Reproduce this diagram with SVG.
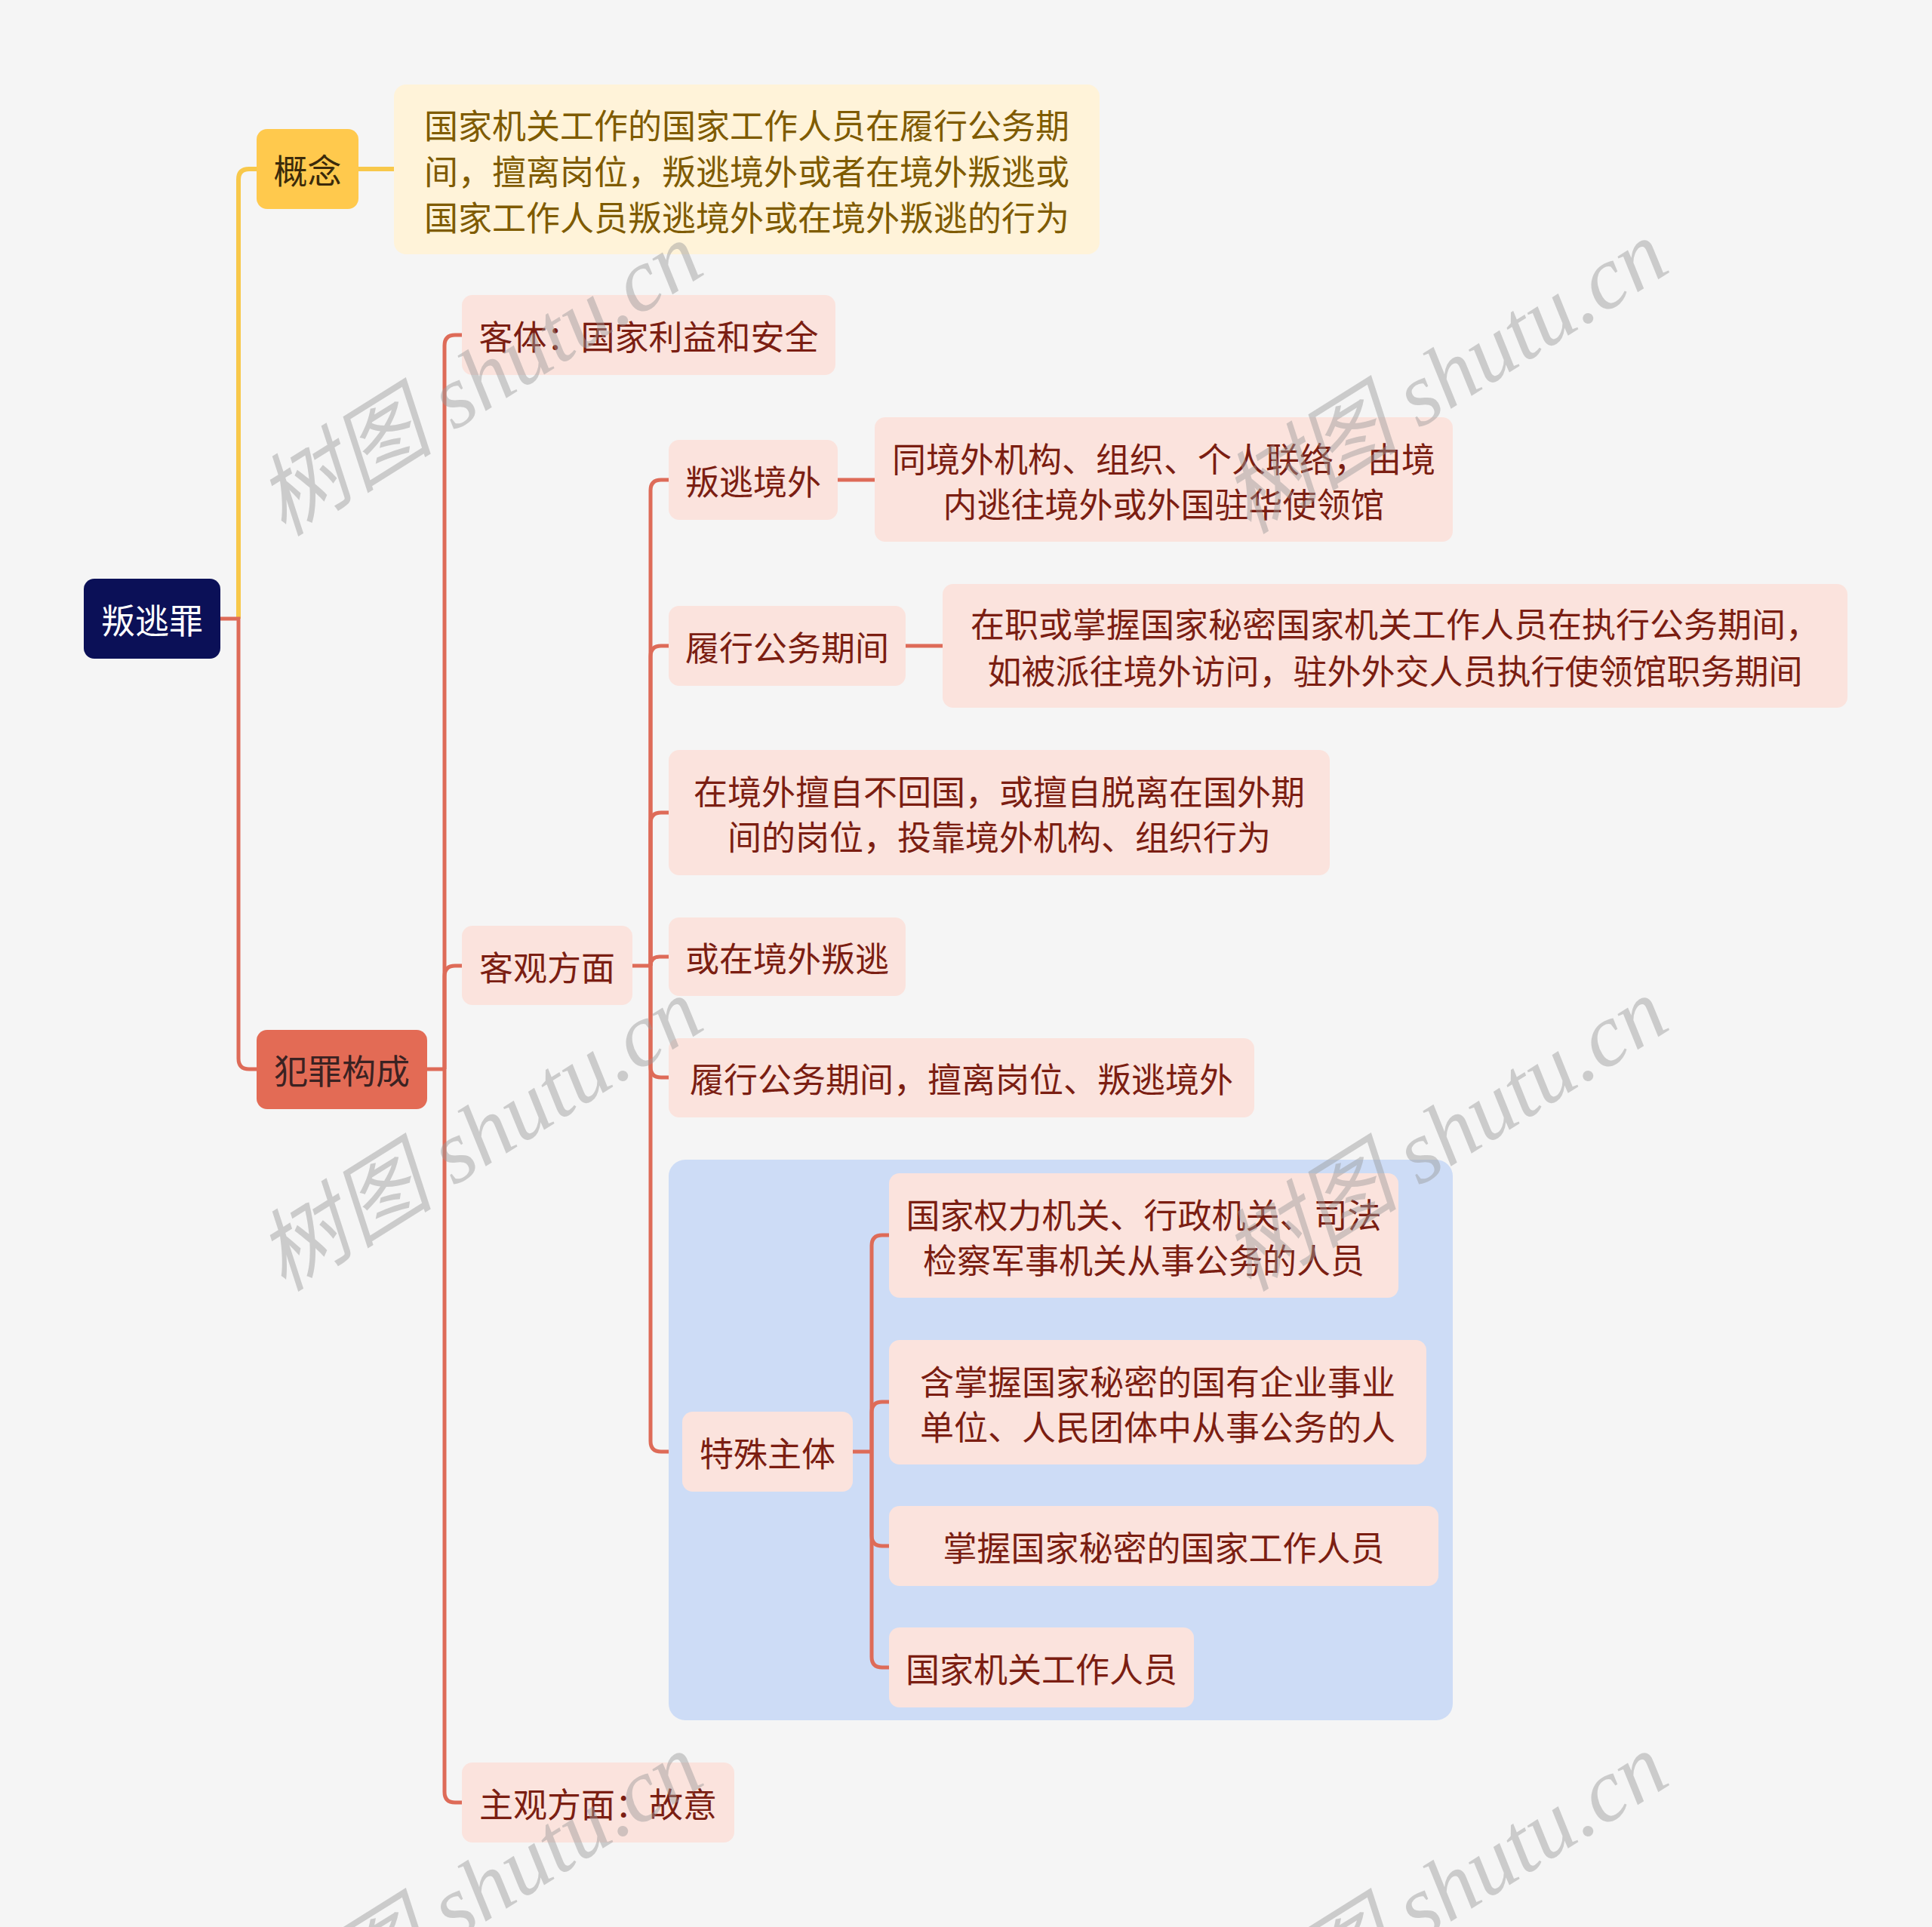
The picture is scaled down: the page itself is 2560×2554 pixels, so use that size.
<svg xmlns="http://www.w3.org/2000/svg" width="2560" height="2554" viewBox="0 0 2560 2554">
<style>
text{font-family:"Noto Sans CJK SC","Noto Sans",sans-serif;font-size:45px;text-anchor:middle;dominant-baseline:central}
.pk{fill:#FBE3DD}
.pt{fill:#7B1E12}
.ln{fill:none;stroke:#DE6B58;stroke-width:5;stroke-linecap:butt}
.yl{fill:none;stroke:#F8C84A;stroke-width:6}
.wm{font-family:"Liberation Serif","Noto Sans CJK SC",serif;font-style:italic;font-size:118px;fill:#9a9a9a;opacity:0.45;text-anchor:start;dominant-baseline:alphabetic}
</style>
<rect width="2560" height="2554" fill="#F5F5F5"/>
<g id="connectors">
<path class="yl" d="M316,820 V238 Q316,224 330,224 H340"/>
<path class="yl" d="M475,224 H522"/>
<path class="ln" d="M292,820 H316 V1403 Q316,1417 330,1417 H340"/>
<path class="ln" d="M566,1417 H589"/>
<path class="ln" d="M589,1417 V458 Q589,444 603,444 H612"/>
<path class="ln" d="M589,1417 V1294 Q589,1280 603,1280 H612"/>
<path class="ln" d="M589,1417 V2375 Q589,2389 603,2389 H612"/>
<path class="ln" d="M838,1280 H862"/>
<path class="ln" d="M862,1280 V650 Q862,636 876,636 H886"/>
<path class="ln" d="M862,1280 V870 Q862,856 876,856 H886"/>
<path class="ln" d="M862,1280 V1091 Q862,1077 876,1077 H886"/>
<path class="ln" d="M862,1280 Q862,1268 874,1268 H886"/>
<path class="ln" d="M862,1280 V1414 Q862,1428 876,1428 H886"/>
<path class="ln" d="M862,1280 V1910 Q862,1924 876,1924 H904"/>
<path class="ln" d="M1110,636 H1159"/>
<path class="ln" d="M1200,856 H1249"/>
</g>
<g id="group-bg">
<rect x="886" y="1537" width="1039" height="743" rx="22" fill="#CDDCF6"/>
</g>
<g id="connectors-group">
<path class="ln" d="M1130,1924 H1155"/>
<path class="ln" d="M1155,1924 V1651 Q1155,1637 1169,1637 H1178"/>
<path class="ln" d="M1155,1924 V1872 Q1155,1858 1169,1858 H1178"/>
<path class="ln" d="M1155,1924 V2035 Q1155,2049 1169,2049 H1178"/>
<path class="ln" d="M1155,1924 V2196 Q1155,2210 1169,2210 H1178"/>
</g>
<g id="root">
<rect x="111" y="767" width="181" height="106" rx="14" fill="#0B1057"/>
<text x="201.5" y="820" fill="#FFFFFF">叛逃罪</text>
</g>
<g id="gainian">
<rect x="340" y="171" width="135" height="106" rx="14" fill="#FFC94D"/>
<text x="407.5" y="224" fill="#3B2A0A">概念</text>
</g>
<g id="gainian-desc">
<rect x="522" y="112" width="935" height="225" rx="16" fill="#FFF3D9"/>
<text x="989.5" y="164" fill="#7F5B00">国家机关工作的国家工作人员在履行公务期</text>
<text x="989.5" y="225" fill="#7F5B00">间，擅离岗位，叛逃境外或者在境外叛逃或</text>
<text x="989.5" y="286" fill="#7F5B00">国家工作人员叛逃境外或在境外叛逃的行为</text>
</g>
<g id="fanzui">
<rect x="340" y="1365" width="226" height="105" rx="14" fill="#E36B55"/>
<text x="453" y="1417" fill="#3A2222">犯罪构成</text>
</g>
<g id="keti">
<rect class="pk" x="612" y="391" width="495" height="106" rx="14"/>
<text class="pt" x="859.5" y="444">客体：国家利益和安全</text>
</g>
<g id="keguan">
<rect class="pk" x="612" y="1227" width="226" height="105" rx="14"/>
<text class="pt" x="725" y="1280">客观方面</text>
</g>
<g id="zhuguan">
<rect class="pk" x="612" y="2336" width="361" height="106" rx="14"/>
<text class="pt" x="792.5" y="2389">主观方面：故意</text>
</g>
<g id="pantao">
<rect class="pk" x="886" y="583" width="224" height="106" rx="14"/>
<text class="pt" x="998" y="636">叛逃境外</text>
</g>
<g id="pantao-desc">
<rect class="pk" x="1159" y="553" width="766" height="165" rx="14"/>
<text class="pt" x="1542" y="606">同境外机构、组织、个人联络，由境</text>
<text class="pt" x="1542" y="666">内逃往境外或外国驻华使领馆</text>
</g>
<g id="lvxing">
<rect class="pk" x="886" y="803" width="314" height="106" rx="14"/>
<text class="pt" x="1043" y="856">履行公务期间</text>
</g>
<g id="lvxing-desc">
<rect class="pk" x="1249" y="774" width="1199" height="164" rx="14"/>
<text class="pt" x="1848.5" y="825">在职或掌握国家秘密国家机关工作人员在执行公务期间，</text>
<text class="pt" x="1848.5" y="887">如被派往境外访问，驻外外交人员执行使领馆职务期间</text>
</g>
<g id="jingwai-buhui">
<rect class="pk" x="886" y="994" width="876" height="166" rx="14"/>
<text class="pt" x="1324" y="1047">在境外擅自不回国，或擅自脱离在国外期</text>
<text class="pt" x="1324" y="1107">间的岗位，投靠境外机构、组织行为</text>
</g>
<g id="jingwai-pantao">
<rect class="pk" x="886" y="1216" width="314" height="104" rx="14"/>
<text class="pt" x="1043" y="1268">或在境外叛逃</text>
</g>
<g id="shanli">
<rect class="pk" x="886" y="1376" width="776" height="105" rx="14"/>
<text class="pt" x="1274" y="1428">履行公务期间，擅离岗位、叛逃境外</text>
</g>
<g id="teshu">
<rect class="pk" x="904" y="1871" width="226" height="106" rx="14"/>
<text class="pt" x="1017" y="1924">特殊主体</text>
</g>
<g id="teshu-1">
<rect class="pk" x="1178" y="1555" width="675" height="165" rx="14"/>
<text class="pt" x="1515.5" y="1608">国家权力机关、行政机关、司法</text>
<text class="pt" x="1515.5" y="1668">检察军事机关从事公务的人员</text>
</g>
<g id="teshu-2">
<rect class="pk" x="1178" y="1776" width="712" height="165" rx="14"/>
<text class="pt" x="1534" y="1829">含掌握国家秘密的国有企业事业</text>
<text class="pt" x="1534" y="1889">单位、人民团体中从事公务的人</text>
</g>
<g id="teshu-3">
<rect class="pk" x="1178" y="1996" width="728" height="106" rx="14"/>
<text class="pt" x="1542" y="2049">掌握国家秘密的国家工作人员</text>
</g>
<g id="teshu-4">
<rect class="pk" x="1178" y="2157" width="404" height="106" rx="14"/>
<text class="pt" x="1380" y="2210">国家机关工作人员</text>
</g>
<g id="watermarks">
<text class="wm" transform="translate(376,712) rotate(-32)">树图 shutu.cn</text>
<text class="wm" transform="translate(1655,709) rotate(-32)">树图 shutu.cn</text>
<text class="wm" transform="translate(376,1713) rotate(-32)">树图 shutu.cn</text>
<text class="wm" transform="translate(1655,1713) rotate(-32)">树图 shutu.cn</text>
<text class="wm" transform="translate(376,2714) rotate(-32)">树图 shutu.cn</text>
<text class="wm" transform="translate(1655,2714) rotate(-32)">树图 shutu.cn</text>
</g>
</svg>
